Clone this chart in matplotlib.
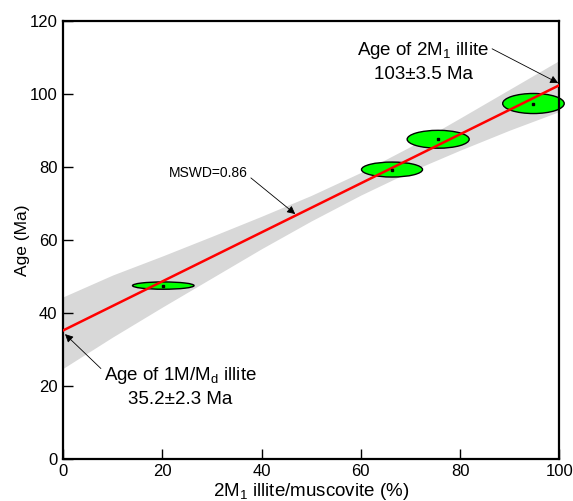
import matplotlib.pyplot as plt
from matplotlib.patches import Ellipse

plt.rcParams['font.family'] = ['Liberation Sans', 'DejaVu Sans']
plt.rcParams['mathtext.default'] = 'regular'

# measured illite / muscovite points (center, full width and height of error ellipse)
pct_2m1 = [20.2, 66.3, 75.6, 94.8]
age_ma = [47.5, 79.3, 87.6, 97.4]
ell_w = [12.4, 12.3, 12.5, 12.4]
ell_h = [2.0, 4.1, 4.9, 5.5]

# regression line and its confidence band
fit_x = [0, 100]
fit_y = [35.2, 102.4]
band_x = [0, 10, 20, 30, 40, 50, 60, 70, 80, 90, 100]
band_lo = [24.8, 33.4, 41.6, 49.6, 57.6, 65.2, 72.3, 78.8, 84.6, 90.1, 95.2]
band_hi = [44.4, 50.4, 55.6, 61.0, 66.5, 72.2, 78.5, 85.6, 93.4, 101.3, 109.2]

fig = plt.figure(figsize=(5.73, 5.01), dpi=100)
ax = fig.add_axes([0.110, 0.084, 0.866, 0.874])

ax.fill_between(band_x, band_lo, band_hi, color='#d8d8d8', lw=0, zorder=1)
ax.plot(fit_x, fit_y, color='red', lw=1.8, zorder=3)

for x, y, w, h in zip(pct_2m1, age_ma, ell_w, ell_h):
    e = Ellipse((x, y), w, h, facecolor='#00ff00', edgecolor='black', lw=1.0,
                zorder=2, clip_on=False)
    ax.add_patch(e)
ax.plot(pct_2m1, age_ma, 's', color='black', ms=1.5, zorder=4, clip_on=False)

arrow = dict(arrowstyle='-|>', color='black', lw=0.6, mutation_scale=12,
             shrinkA=0, shrinkB=0)
ax.annotate('Age of 2M$_1$ illite\n103±3.5 Ma', xy=(99.8, 103.0), xytext=(72.6, 109.0),
            ha='center', va='center', fontsize=13.5, linespacing=1.4,
            arrowprops=dict(arrow, relpos=(1.0, 0.82)))
ax.annotate('Age of 1M/M$_d$ illite\n35.2±2.3 Ma', xy=(0.4, 34.2), xytext=(23.6, 19.9),
            ha='center', va='center', fontsize=13.5, linespacing=1.4,
            arrowprops=dict(arrow, relpos=(0.0, 0.85)))
ax.annotate('MSWD=0.86', xy=(46.8, 67.1), xytext=(21.4, 78.4),
            ha='left', va='center', fontsize=10,
            arrowprops=dict(arrow, relpos=(1.0, 0.3)))

ax.set_xlim(0, 100)
ax.set_ylim(0, 120)
ax.set_xticks(range(0, 101, 20))
ax.set_yticks(range(0, 121, 20))
ax.tick_params(direction='in', length=7, width=1, labelsize=12, pad=4)
for s in ax.spines.values():
    s.set_linewidth(1.6)
ax.set_xlabel('2M$_1$ illite/muscovite (%)', fontsize=13.5, labelpad=1)
ax.set_ylabel('Age (Ma)', fontsize=12.5, labelpad=0)

fig.savefig('out.png', dpi=100)
